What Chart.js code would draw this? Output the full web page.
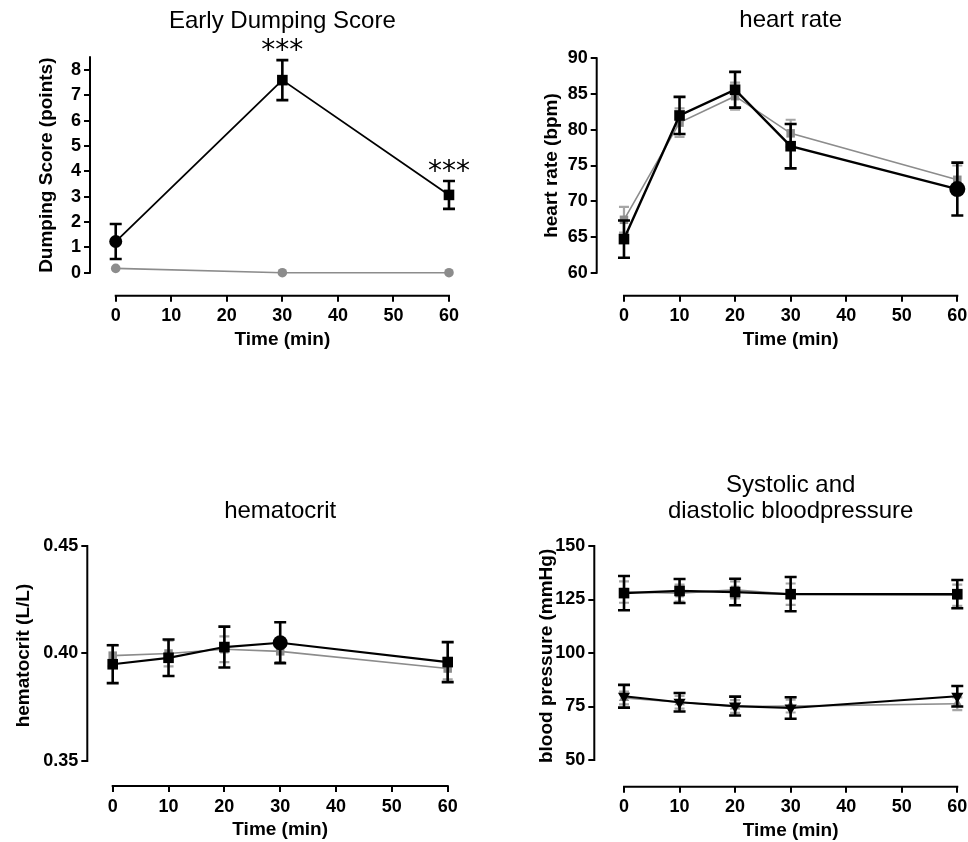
<!DOCTYPE html>
<html>
<head>
<meta charset="utf-8">
<title>Early dumping score, heart rate, hematocrit and blood pressure</title>
<script src="https://cdn.jsdelivr.net/npm/chart.js@4.4.1/dist/chart.umd.min.js"></script>
<style>
  html, body { margin:0; padding:0; background:#fff; }
  body { position:relative; width:968px; height:842px; overflow:hidden; }
  canvas { position:absolute; }
</style>
</head>
<body>
<canvas id="dumping"></canvas>
<canvas id="heartrate"></canvas>
<canvas id="hematocrit"></canvas>
<canvas id="bloodpressure"></canvas>
<script>
// ---------------- data ----------------
const dumpTime = [0, 30, 60];
const dumpBlack = [1.23, 7.60, 3.07];
const dumpBlackSem = [0.69, 0.79, 0.55];
const dumpGrey = [0.17, 0.00, 0.00];
const dumpGreySem = [0, 0, 0];
const dumpSignificance = ['', '***', '***'];

const time = [0, 10, 20, 30, 60];
const hrBlack = [64.7, 82.0, 85.6, 77.7, 71.7];
const hrBlackSem = [2.6, 2.6, 2.5, 3.1, 3.7];
const hrGrey = [67.4, 81.0, 84.7, 79.5, 73.0];
const hrGreySem = [1.8, 2.0, 1.9, 1.9, 2.0];

const hctBlack = [0.395, 0.398, 0.403, 0.405, 0.396];
const hctBlackSem = [0.0088, 0.0085, 0.0095, 0.0095, 0.0093];
const hctGrey = [0.399, 0.400, 0.402, 0.401, 0.393];
const hctGreySem = [0.005, 0.006, 0.006, 0.005, 0.005];

const sysBlack = [128.0, 129.0, 128.5, 127.5, 127.5];
const sysBlackSem = [8.0, 5.6, 6.2, 8.0, 6.6];
const sysGrey = [128.5, 128.0, 129.5, 127.5, 127.0];
const sysGreySem = [5, 4, 4, 5, 5];
const diaBlack = [79.8, 77.0, 75.2, 74.3, 79.8];
const diaBlackSem = [5.3, 4.3, 4.4, 5.0, 4.8];
const diaGrey = [79.0, 77.0, 75.0, 75.2, 76.3];
const diaGreySem = [3, 3, 3, 3, 3];

const timeTicks = [0, 10, 20, 30, 40, 50, 60];
const timeTickLabels = ['0', '10', '20', '30', '40', '50', '60'];
const dumpTicks = [0, 1, 2, 3, 4, 5, 6, 7, 8];
const dumpTickLabels = ['0', '1', '2', '3', '4', '5', '6', '7', '8'];
const hrTicks = [60, 65, 70, 75, 80, 85, 90];
const hrTickLabels = ['60', '65', '70', '75', '80', '85', '90'];
const hctTicks = [0.35, 0.40, 0.45];
const hctTickLabels = ['0.35', '0.40', '0.45'];
const bpTicks = [50, 75, 100, 125, 150];
const bpTickLabels = ['50', '75', '100', '125', '150'];

// ---------------- styling ----------------
const FONT = "'Liberation Sans', Arial, sans-serif";
const titleFont = { family: FONT, size: 24, weight: 'normal', lineHeight: 1.11 };
const tickFont = { family: FONT, size: 18, weight: 'bold' };
const axisTitleFont = { family: FONT, size: 19, weight: 'bold' };
const BLACK = '#000';
const GREY = '#8c8c8c';

// ---------------- plugins ----------------
// GraphPad-style detached axes: axis lines only over the tick range
const gpAxes = {
  id: 'gpAxes',
  beforeDatasetsDraw(chart) {
    const { ctx, chartArea } = chart;
    const xs = chart.scales.x, ys = chart.scales.y;
    const ax = chart.config.options.axisRange;
    ctx.save();
    ctx.strokeStyle = BLACK;
    ctx.lineWidth = 2;
    ctx.beginPath();
    ctx.moveTo(chartArea.left, ys.getPixelForValue(ax.yFrom) + 1);
    ctx.lineTo(chartArea.left, ys.getPixelForValue(ax.yTo) - 1);
    ctx.moveTo(xs.getPixelForValue(ax.xFrom) - 1, chartArea.bottom);
    ctx.lineTo(xs.getPixelForValue(ax.xTo) + 1, chartArea.bottom);
    ctx.stroke();
    ctx.restore();
  }
};

// error bars (mean ± SEM) drawn just before each dataset
const errorBars = {
  id: 'errorBars',
  beforeDatasetDraw(chart, args) {
    const ds = chart.data.datasets[args.index];
    if (!ds.errors) return;
    const { ctx } = chart;
    const xs = chart.scales.x, ys = chart.scales.y;
    ctx.save();
    ctx.strokeStyle = ds.errColor;
    ctx.lineWidth = ds.errWidth;
    ctx.beginPath();
    ds.data.forEach((p, j) => {
      const e = ds.errors[j];
      if (!e) return;
      const x = xs.getPixelForValue(p.x);
      const yt = ys.getPixelForValue(p.y + e);
      const yb = ys.getPixelForValue(p.y - e);
      const c = ds.errCap;
      ctx.moveTo(x, yt); ctx.lineTo(x, yb);
      ctx.moveTo(x - c, yt); ctx.lineTo(x + c, yt);
      ctx.moveTo(x - c, yb); ctx.lineTo(x + c, yb);
    });
    ctx.stroke();
    ctx.restore();
  }
};

// significance asterisks above the error bars
const sigMarks = {
  id: 'sigMarks',
  afterDatasetsDraw(chart) {
    const { ctx } = chart;
    const xs = chart.scales.x, ys = chart.scales.y;
    chart.data.datasets.forEach(ds => {
      if (!ds.sig) return;
      ctx.save();
      ctx.fillStyle = BLACK;
      ctx.font = "28px 'DejaVu Sans', sans-serif";
      ctx.textAlign = 'center';
      ctx.textBaseline = 'alphabetic';
      ds.data.forEach((p, j) => {
        if (!ds.sig[j]) return;
        const x = xs.getPixelForValue(p.x);
        const y = ys.getPixelForValue(p.y + (ds.errors[j] || 0)) - 1;
        ctx.fillText(ds.sig[j], x, y);
      });
      ctx.restore();
    });
  }
};

// ---------------- builders ----------------
function series(label, xVals, yVals, errs, st) {
  return {
    label,
    data: xVals.map((x, i) => ({ x, y: yVals[i] })),
    errors: errs,
    sig: st.sig,
    borderColor: st.color,
    borderWidth: st.lineWidth,
    pointStyle: st.pointStyle,
    pointRadius: st.pointRadius,
    pointHoverRadius: st.pointRadius,
    pointRotation: st.rotation || 0,
    pointBackgroundColor: st.color,
    pointBorderColor: st.color,
    pointBorderWidth: 0,
    errColor: st.errColor,
    errWidth: st.errWidth,
    errCap: st.errCap,
    tension: 0,
    fill: false,
    clip: false
  };
}

const blackStyle = (pointStyle, pointRadius, extra) => Object.assign({
  color: BLACK, lineWidth: 2, pointStyle, pointRadius,
  errColor: BLACK, errWidth: 2.6, errCap: 6
}, extra || {});
const greyStyle = (pointStyle, pointRadius, extra) => Object.assign({
  color: GREY, lineWidth: 1.6, pointStyle, pointRadius,
  errColor: '#a6a6a6', errWidth: 2.2, errCap: 5
}, extra || {});

function panel(id, p) {
  const el = document.getElementById(id);
  el.width = p.box.w; el.height = p.box.h;
  Object.assign(el.style, {
    left: p.box.x + 'px', top: p.box.y + 'px',
    width: p.box.w + 'px', height: p.box.h + 'px'
  });
  return new Chart(el, {
    type: 'line',
    data: { datasets: p.datasets },
    options: {
      responsive: false,
      animation: false,
      devicePixelRatio: 1,
      events: [],
      axisRange: p.axisRange,
      layout: { padding: p.padding },
      plugins: {
        legend: { display: false },
        tooltip: { enabled: false },
        title: {
          display: true, text: p.title, color: BLACK, font: titleFont,
          fullSize: false, padding: p.titlePadding
        }
      },
      scales: {
        x: {
          type: 'linear', bounds: 'data', min: p.xMin, max: p.xMax,
          afterBuildTicks: s => { s.ticks = timeTicks.map(v => ({ value: v })); },
          afterFit: s => { s.height = 55; s.paddingLeft = 0; s.paddingRight = 0; },
          ticks: {
            autoSkip: false, maxRotation: 0, padding: 4, color: BLACK, font: tickFont,
            callback: (v, i) => timeTickLabels[i]
          },
          grid: { drawOnChartArea: false, drawTicks: true, tickLength: 6, color: BLACK, lineWidth: 2 },
          border: { display: false },
          title: { display: true, text: 'Time (min)', color: BLACK, font: axisTitleFont, padding: 0 }
        },
        y: {
          type: 'linear', bounds: 'data', min: p.yMin, max: p.yMax,
          afterBuildTicks: s => { s.ticks = p.yTicks.map(v => ({ value: v })); },
          afterFit: s => { s.width = p.yWidth; s.paddingTop = 0; s.paddingBottom = 0; },
          ticks: {
            autoSkip: false, padding: 3, color: BLACK, font: tickFont,
            callback: (v, i) => p.yTickLabels[i]
          },
          grid: { drawOnChartArea: false, drawTicks: true, tickLength: 6, color: BLACK, lineWidth: 2 },
          border: { display: false },
          title: { display: true, text: p.yTitle, color: BLACK, font: axisTitleFont, padding: 0 }
        }
      }
    },
    plugins: [gpAxes, errorBars, sigMarks]
  });
}

// ---------------- panels ----------------
panel('dumping', {
  box: { x: 0, y: 0, w: 484, h: 421 },
  padding: { left: 35, right: 9.3, top: 0, bottom: 70.3 },
  titlePadding: { top: 7.68, bottom: 0.38 },
  title: 'Early Dumping Score',
  yTitle: 'Dumping Score (points)',
  yWidth: 55,
  xMin: -4.63, xMax: 64.63,
  yMin: -0.908, yMax: 9.393,
  yTicks: dumpTicks, yTickLabels: dumpTickLabels,
  axisRange: { xFrom: 0, xTo: 60, yFrom: 0, yTo: 8.5 },
  datasets: [
    series('black group', dumpTime, dumpBlack, dumpBlackSem,
      blackStyle(['circle', 'rect', 'rect'], [6.5, 7.5, 7.5], { lineWidth: 1.8, sig: dumpSignificance })),
    series('grey group', dumpTime, dumpGrey, dumpGreySem, greyStyle('circle', 4.8))
  ]
});

panel('heartrate', {
  box: { x: 484, y: 0, w: 510, h: 421 },
  padding: { left: 56.3, right: 9.4, top: 0, bottom: 70.3 },
  titlePadding: { top: 7.38, bottom: 1.28 },
  title: 'heart rate',
  yTitle: 'heart rate (bpm)',
  yWidth: 56.4,
  xMin: -4.91, xMax: 64.91,
  yMin: 56.78, yMax: 93.22,
  yTicks: hrTicks, yTickLabels: hrTickLabels,
  axisRange: { xFrom: 0, xTo: 60, yFrom: 60, yTo: 90 },
  datasets: [
    series('black group', time, hrBlack, hrBlackSem,
      blackStyle(['rect', 'rect', 'rect', 'rect', 'circle'], [7.5, 7.5, 7.5, 7.5, 8], { lineWidth: 2.4 })),
    series('grey group', time, hrGrey, hrGreySem, greyStyle('rect', 6))
  ]
});

panel('hematocrit', {
  box: { x: 0, y: 421, w: 484, h: 421 },
  padding: { left: 12, right: 10.9, top: 0, bottom: 1 },
  titlePadding: { top: 77.38, bottom: 0.03 },
  title: 'hematocrit',
  yTitle: 'hematocrit (L/L)',
  yWidth: 75.3,
  xMin: -4.55, xMax: 64.55,
  yMin: 0.33837, yMax: 0.45974,
  yTicks: hctTicks, yTickLabels: hctTickLabels,
  axisRange: { xFrom: 0, xTo: 60, yFrom: 0.35, yTo: 0.45 },
  datasets: [
    series('black group', time, hctBlack, hctBlackSem,
      blackStyle(['rect', 'rect', 'rect', 'circle', 'rect'], [7.5, 7.5, 7.5, 7.5, 7.5], { lineWidth: 2.2 })),
    series('grey group', time, hctGrey, hctGreySem, greyStyle('rect', 6))
  ]
});

panel('bloodpressure', {
  box: { x: 484, y: 421, w: 520, h: 421 },
  padding: { left: 51.3, right: 17, top: 0, bottom: 0.3 },
  titlePadding: { top: 50.68, bottom: 0.09 },
  title: ['Systolic and', 'diastolic bloodpressure'],
  yTitle: 'blood pressure (mmHg)',
  yWidth: 59,
  xMin: -5.35, xMax: 65.35,
  yMin: 37.52, yMax: 159.81,
  yTicks: bpTicks, yTickLabels: bpTickLabels,
  axisRange: { xFrom: 0, xTo: 60, yFrom: 50, yTo: 150 },
  datasets: [
    series('systolic, black group', time, sysBlack, sysBlackSem, blackStyle('rect', 7.5, { lineWidth: 2.2 })),
    series('diastolic, black group', time, diaBlack, diaBlackSem, blackStyle('triangle', 7, { lineWidth: 2.2, rotation: 180 })),
    series('systolic, grey group', time, sysGrey, sysGreySem, greyStyle('rect', 6)),
    series('diastolic, grey group', time, diaGrey, diaGreySem, greyStyle('triangle', 6))
  ]
});
</script>
</body>
</html>
